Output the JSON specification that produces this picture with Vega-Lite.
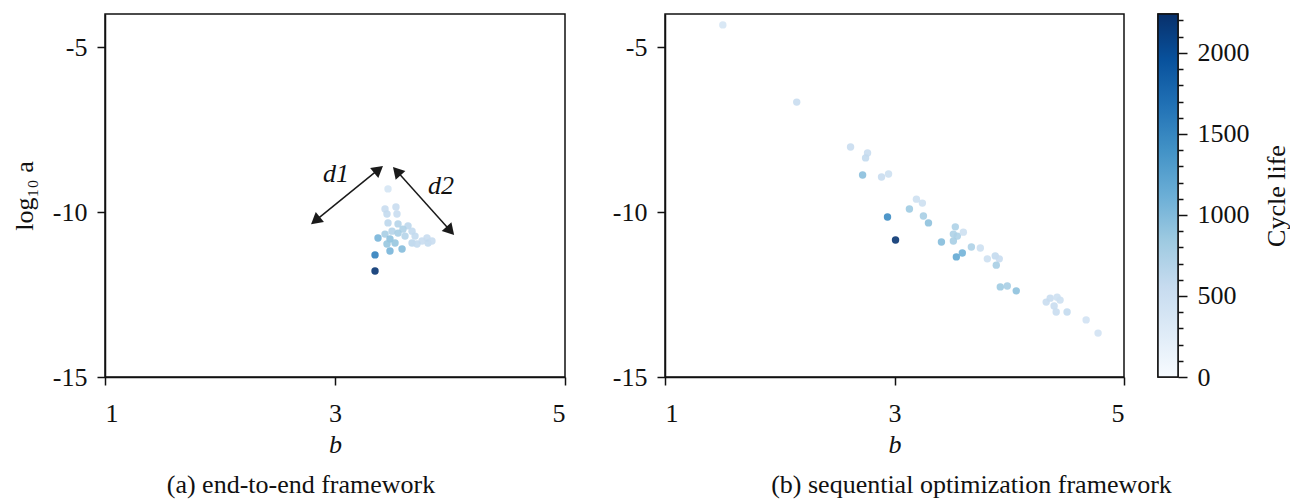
{
  "$schema": "https://vega.github.io/schema/vega-lite/v6.json",
  "padding": {"left": 10, "top": 6, "right": 0, "bottom": 0},
  "background": "white",
  "config": {
    "font": "Liberation Serif",
    "view": {"stroke": "#111", "strokeWidth": 1.5},
    "axis": {
      "grid": false,
      "domainColor": "#111",
      "domainWidth": 1.5,
      "tickColor": "#111",
      "tickWidth": 1.5,
      "tickSize": 8,
      "labelFontSize": 26,
      "labelColor": "#111",
      "titleFontSize": 26,
      "titleColor": "#111",
      "titleFontWeight": "normal",
      "labelPadding": 10
    },
    "axisX": {"labelPadding": 15, "titlePadding": 5, "labelExpr": "replace(datum.label, '−', '-')"},
    "axisLeft": {"labelExpr": "replace(datum.label, '−', '-')"},
    "title": {"fontSize": 26, "fontWeight": "normal", "color": "#111"}
  },
  "datasets": {
    "pa": [
      {"b": 3.461, "loga": -9.30, "cycle": 380},
      {"b": 3.435, "loga": -9.91, "cycle": 520},
      {"b": 3.530, "loga": -9.85, "cycle": 520},
      {"b": 3.452, "loga": -10.06, "cycle": 580},
      {"b": 3.539, "loga": -10.06, "cycle": 520},
      {"b": 3.461, "loga": -10.33, "cycle": 620},
      {"b": 3.548, "loga": -10.36, "cycle": 680},
      {"b": 3.635, "loga": -10.42, "cycle": 620},
      {"b": 3.591, "loga": -10.52, "cycle": 720},
      {"b": 3.496, "loga": -10.58, "cycle": 680},
      {"b": 3.435, "loga": -10.67, "cycle": 780},
      {"b": 3.548, "loga": -10.64, "cycle": 780},
      {"b": 3.670, "loga": -10.58, "cycle": 580},
      {"b": 3.609, "loga": -10.73, "cycle": 680},
      {"b": 3.696, "loga": -10.73, "cycle": 580},
      {"b": 3.800, "loga": -10.79, "cycle": 520},
      {"b": 3.809, "loga": -10.94, "cycle": 580},
      {"b": 3.757, "loga": -10.88, "cycle": 520},
      {"b": 3.670, "loga": -10.94, "cycle": 620},
      {"b": 3.374, "loga": -10.79, "cycle": 1050},
      {"b": 3.478, "loga": -10.82, "cycle": 920},
      {"b": 3.522, "loga": -10.94, "cycle": 880},
      {"b": 3.478, "loga": -11.18, "cycle": 1050},
      {"b": 3.583, "loga": -11.12, "cycle": 980},
      {"b": 3.713, "loga": -10.97, "cycle": 580},
      {"b": 3.348, "loga": -11.30, "cycle": 1550},
      {"b": 3.348, "loga": -11.79, "cycle": 2200},
      {"b": 3.843, "loga": -10.88, "cycle": 520},
      {"b": 3.452, "loga": -10.97, "cycle": 880}
    ],
    "pb": [
      {"b": 1.504, "loga": -4.33, "cycle": 380},
      {"b": 2.148, "loga": -6.67, "cycle": 520},
      {"b": 2.617, "loga": -8.03, "cycle": 520},
      {"b": 2.765, "loga": -8.21, "cycle": 520},
      {"b": 2.748, "loga": -8.36, "cycle": 580},
      {"b": 2.722, "loga": -8.88, "cycle": 950},
      {"b": 2.887, "loga": -8.94, "cycle": 520},
      {"b": 2.948, "loga": -8.85, "cycle": 480},
      {"b": 2.939, "loga": -10.15, "cycle": 1450},
      {"b": 3.009, "loga": -10.85, "cycle": 2200},
      {"b": 3.130, "loga": -9.91, "cycle": 830},
      {"b": 3.191, "loga": -9.61, "cycle": 480},
      {"b": 3.243, "loga": -9.73, "cycle": 480},
      {"b": 3.252, "loga": -10.12, "cycle": 780},
      {"b": 3.296, "loga": -10.33, "cycle": 930},
      {"b": 3.409, "loga": -10.91, "cycle": 980},
      {"b": 3.530, "loga": -10.45, "cycle": 730},
      {"b": 3.513, "loga": -10.67, "cycle": 730},
      {"b": 3.548, "loga": -10.73, "cycle": 730},
      {"b": 3.600, "loga": -10.61, "cycle": 480},
      {"b": 3.513, "loga": -10.88, "cycle": 780},
      {"b": 3.539, "loga": -11.36, "cycle": 1180},
      {"b": 3.591, "loga": -11.24, "cycle": 1080},
      {"b": 3.670, "loga": -11.06, "cycle": 730},
      {"b": 3.748, "loga": -11.09, "cycle": 480},
      {"b": 3.809, "loga": -11.42, "cycle": 480},
      {"b": 3.878, "loga": -11.33, "cycle": 580},
      {"b": 3.913, "loga": -11.42, "cycle": 520},
      {"b": 3.887, "loga": -11.61, "cycle": 780},
      {"b": 3.922, "loga": -12.27, "cycle": 830},
      {"b": 3.983, "loga": -12.24, "cycle": 780},
      {"b": 4.061, "loga": -12.39, "cycle": 930},
      {"b": 4.322, "loga": -12.73, "cycle": 520},
      {"b": 4.357, "loga": -12.61, "cycle": 520},
      {"b": 4.417, "loga": -12.58, "cycle": 480},
      {"b": 4.443, "loga": -12.67, "cycle": 480},
      {"b": 4.391, "loga": -12.85, "cycle": 520},
      {"b": 4.409, "loga": -13.03, "cycle": 520},
      {"b": 4.504, "loga": -13.03, "cycle": 580},
      {"b": 4.670, "loga": -13.27, "cycle": 430},
      {"b": 4.774, "loga": -13.67, "cycle": 430}
    ],
    "arrows": [
      {"arrow": "d1", "b": 2.830, "loga": -10.26, "b2": 3.379, "loga2": -8.71},
      {"arrow": "d2", "b": 3.537, "loga": -8.76, "b2": 4.003, "loga2": -10.57}
    ],
    "heads": [
      {"head": "d1-start", "b": 2.830, "loga": -10.26},
      {"head": "d1-end", "b": 3.379, "loga": -8.71},
      {"head": "d2-start", "b": 3.537, "loga": -8.76},
      {"head": "d2-end", "b": 4.003, "loga": -10.57}
    ],
    "labels": [
      {"text": "d1", "b": 3.009, "loga": -8.85},
      {"text": "d2", "b": 3.922, "loga": -9.20}
    ],
    "bar": [
      {"lo": 0, "hi": 2240}
    ]
  },
  "hconcat": [
    {
      "width": 460,
      "height": 363,
      "title": {"text": "(a) end-to-end framework", "orient": "bottom", "dx": -34, "offset": 15},
      "layer": [
        {
          "data": {"name": "pa"},
          "mark": {"type": "circle", "size": 55, "opacity": 0.9},
          "encoding": {
            "x": {"field": "b", "type": "quantitative", "scale": {"domain": [1, 5], "nice": false, "zero": false},
                  "axis": {"values": [1, 3, 5], "format": "d", "title": "b", "titleFontStyle": "italic"}},
            "y": {"field": "loga", "type": "quantitative", "scale": {"domain": [-15, -4], "nice": false, "zero": false},
                  "axis": {"values": [-15, -10, -5], "format": "d", "title": "log₁₀ a", "titlePadding": 15}},
            "color": {"field": "cycle", "type": "quantitative",
                      "scale": {"domain": [0, 2240], "range": ["#f7fbff", "#deebf7", "#c6dbef", "#9ecae1", "#6baed6", "#4292c6", "#2171b5", "#08519c", "#08306b"], "interpolate": "rgb"},
                      "legend": null}
          }
        },
        {
          "data": {"name": "arrows"},
          "mark": {"type": "rule", "color": "#1a1a1a", "strokeWidth": 1.5},
          "encoding": {
            "x": {"field": "b", "type": "quantitative"},
            "y": {"field": "loga", "type": "quantitative"},
            "x2": {"field": "b2"},
            "y2": {"field": "loga2"}
          }
        },
        {
          "data": {"name": "heads"},
          "transform": [{"filter": "datum.head === 'd1-start'"}],
          "mark": {"type": "point", "shape": "triangle-up", "filled": true, "color": "#1a1a1a", "opacity": 1, "size": 170, "angle": 231},
          "encoding": {"x": {"field": "b", "type": "quantitative"}, "y": {"field": "loga", "type": "quantitative"}}
        },
        {
          "data": {"name": "heads"},
          "transform": [{"filter": "datum.head === 'd1-end'"}],
          "mark": {"type": "point", "shape": "triangle-up", "filled": true, "color": "#1a1a1a", "opacity": 1, "size": 170, "angle": 51},
          "encoding": {"x": {"field": "b", "type": "quantitative"}, "y": {"field": "loga", "type": "quantitative"}}
        },
        {
          "data": {"name": "heads"},
          "transform": [{"filter": "datum.head === 'd2-start'"}],
          "mark": {"type": "point", "shape": "triangle-up", "filled": true, "color": "#1a1a1a", "opacity": 1, "size": 170, "angle": 318},
          "encoding": {"x": {"field": "b", "type": "quantitative"}, "y": {"field": "loga", "type": "quantitative"}}
        },
        {
          "data": {"name": "heads"},
          "transform": [{"filter": "datum.head === 'd2-end'"}],
          "mark": {"type": "point", "shape": "triangle-up", "filled": true, "color": "#1a1a1a", "opacity": 1, "size": 170, "angle": 138},
          "encoding": {"x": {"field": "b", "type": "quantitative"}, "y": {"field": "loga", "type": "quantitative"}}
        },
        {
          "data": {"name": "labels"},
          "mark": {"type": "text", "fontSize": 26, "fontStyle": "italic", "color": "#111"},
          "encoding": {
            "x": {"field": "b", "type": "quantitative"},
            "y": {"field": "loga", "type": "quantitative"},
            "text": {"field": "text"}
          }
        }
      ]
    },
    {
      "spacing": 34,
      "bounds": "flush",
      "hconcat": [
        {
          "width": 459,
          "height": 363,
          "title": {"text": "(b) sequential optimization framework", "orient": "bottom", "dx": 77, "offset": 15},
          "data": {"name": "pb"},
          "mark": {"type": "circle", "size": 55, "opacity": 0.9},
          "encoding": {
            "x": {"field": "b", "type": "quantitative", "scale": {"domain": [1, 5], "nice": false, "zero": false},
                  "axis": {"values": [1, 3, 5], "format": "d", "title": "b", "titleFontStyle": "italic"}},
            "y": {"field": "loga", "type": "quantitative", "scale": {"domain": [-15, -4], "nice": false, "zero": false},
                  "axis": {"values": [-15, -10, -5], "format": "d", "title": null}},
            "color": {"field": "cycle", "type": "quantitative",
                      "scale": {"domain": [0, 2240], "range": ["#f7fbff", "#deebf7", "#c6dbef", "#9ecae1", "#6baed6", "#4292c6", "#2171b5", "#08519c", "#08306b"], "interpolate": "rgb"},
                      "legend": null}
          }
        },
        {
          "width": 20,
          "height": 363,
          "data": {"name": "bar"},
          "mark": {
            "type": "rect",
            "stroke": "#111",
            "strokeWidth": 1.5,
            "fill": {
              "gradient": "linear",
              "x1": 0, "y1": 1, "x2": 0, "y2": 0,
              "stops": [
                {"offset": 0, "color": "#f7fbff"},
                {"offset": 0.125, "color": "#deebf7"},
                {"offset": 0.25, "color": "#c6dbef"},
                {"offset": 0.375, "color": "#9ecae1"},
                {"offset": 0.5, "color": "#6baed6"},
                {"offset": 0.625, "color": "#4292c6"},
                {"offset": 0.75, "color": "#2171b5"},
                {"offset": 0.875, "color": "#08519c"},
                {"offset": 1, "color": "#08306b"}
              ]
            }
          },
          "encoding": {
            "y": {"field": "lo", "type": "quantitative", "scale": {"domain": [0, 2240], "nice": false},
                  "axis": {"orient": "right", "title": "Cycle life", "titleAngle": 270, "titleBaseline": "top", "titlePadding": 14,
                           "values": [0, 100, 200, 300, 400, 500, 600, 700, 800, 900, 1000, 1100, 1200, 1300, 1400, 1500, 1600, 1700, 1800, 1900, 2000, 2100, 2200],
                           "format": "d", "labelOverlap": false,
                           "labelExpr": "datum.value % 500 === 0 ? datum.label : ''",
                           "tickSize": {"condition": {"test": "datum.value % 500 === 0", "value": 9}, "value": 5},
                           "domain": false, "labelPadding": 10}},
            "y2": {"field": "hi"}
          }
        }
      ]
    }
  ],
  "spacing": 100,
  "bounds": "flush"
}
